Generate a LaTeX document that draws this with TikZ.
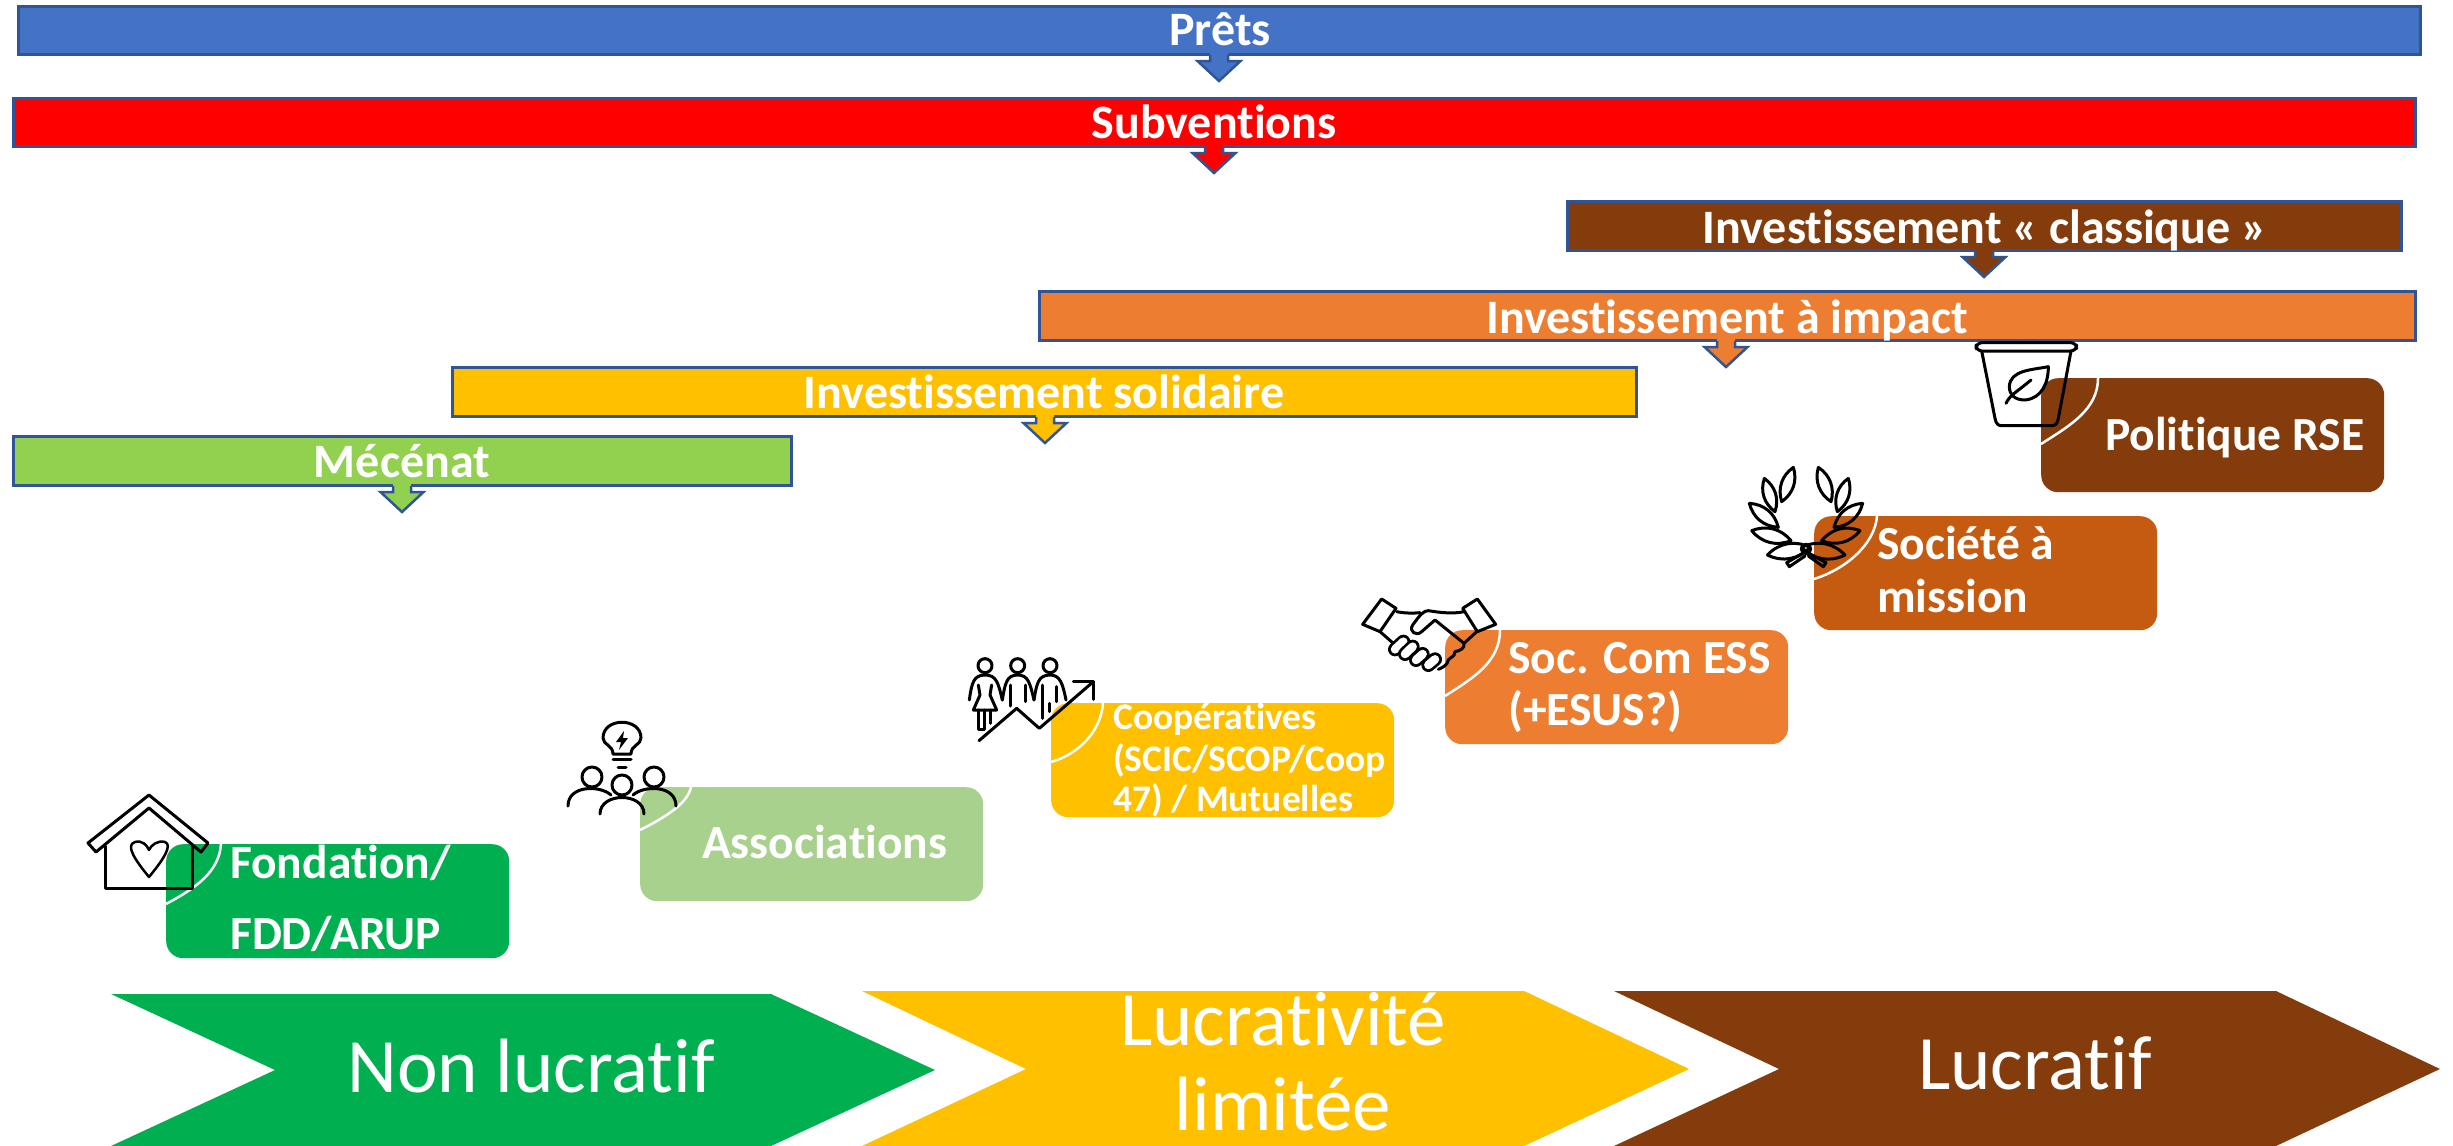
\documentclass[tikz,border=0pt]{standalone}
\usepackage{fontspec}
\setmainfont[Ligatures=NoCommon]{Carlito}
\usetikzlibrary{calc}
\definecolor{cblue}{HTML}{4472C4}
\definecolor{cline}{HTML}{2F5597}
\definecolor{cred}{HTML}{FF0000}
\definecolor{cbrown}{HTML}{843C0C}
\definecolor{corange}{HTML}{ED7D31}
\definecolor{cgold}{HTML}{FFC000}
\definecolor{clime}{HTML}{92D050}
\definecolor{cgreen}{HTML}{00B050}
\definecolor{csage}{HTML}{A9D18E}
\definecolor{crust}{HTML}{C55A11}
\tikzset{
  bar/.style={draw=cline,line width=2.5pt,rectangle,inner sep=0pt,anchor=north west},
  barlabel/.style={text=white,font=\fontsize{48}{50}\selectfont\bfseries,anchor=base,inner sep=0pt},
  stagebox/.style={rectangle,rounded corners=17pt,inner sep=0pt,anchor=north west,minimum width=343pt,minimum height=114pt},
  boxlabel/.style={text=white,font=\fontsize{47.5}{50}\selectfont\bfseries,anchor=base west,inner sep=0pt},
  smalllabel/.style={text=white,font=\fontsize{37.5}{40}\selectfont\bfseries,anchor=base west,inner sep=0pt},
  chevlabel/.style={text=white,font=\fontsize{77}{80}\selectfont,anchor=base,inner sep=0pt},
  cornerarc/.style={draw=white,line width=2.5pt},
  icon/.style={draw=black,line width=3pt,line join=round,line cap=round},
  zoomed/.style={x=1pt,y=-1pt,scale=0.33333}
}
\newcommand{\droparrow}[3]{% centre x, bar bottom y, colour
  \path[fill=#3] (#1-9,#2-3) -- (#1-9,#2+7) -- (#1-21.5,#2+7) -- (#1,#2+27) -- (#1+21.5,#2+7) -- (#1+9,#2+7) -- (#1+9,#2-3) -- cycle;
  \draw[cline,line width=2.5pt,line join=miter] (#1-9,#2+1) -- (#1-9,#2+7) -- (#1-21.5,#2+7) -- (#1,#2+27) -- (#1+21.5,#2+7) -- (#1+9,#2+7) -- (#1+9,#2+1);
}
\newcommand{\leafshape}[4]{\draw[icon] (#1,#2) to[bend left=36] (#3,#4) to[bend left=36] (#1,#2);}
\begin{document}
\begin{tikzpicture}[x=1pt,y=-1pt]
\useasboundingbox (0,0) rectangle (2453,1146);
\path[fill=white] (0,0) rectangle (2453,1146);

% bars
\node[bar,fill=cblue,minimum width=2402pt,minimum height=48pt] (prets) at (17,5) {};
\node[bar,fill=cred,minimum width=2402pt,minimum height=48pt] (subv) at (12,97) {};
\node[bar,fill=cbrown,minimum width=834pt,minimum height=49pt] (classique) at (1566,200) {};
\node[bar,fill=corange,minimum width=1376pt,minimum height=49pt] (impact) at (1038,290) {};
\node[bar,fill=cgold,minimum width=1184pt,minimum height=49pt] (solid) at (451,366) {};
\node[bar,fill=clime,minimum width=778pt,minimum height=49pt] (mecenat) at (12,435) {};
\droparrow{1219}{54}{cblue}
\droparrow{1214}{146}{cred}
\droparrow{1984}{250}{cbrown}
\droparrow{1726}{340}{corange}
\droparrow{1045}{416}{cgold}
\droparrow{402}{485}{clime}
\node[barlabel] (tprets) at (1220,45) {Prêts};
\node[barlabel] (tsubv) at (1214,138) {Subventions};
\node[barlabel] (tclass) at (1985,243) {Investissement « classique »};
\node[barlabel] (timpact) at (1727,333) {Investissement à impact};
\node[barlabel] (tsolid) at (1044,408) {Investissement solidaire};
\node[barlabel] (tmec) at (402,477) {Mécénat};

% stage boxes
\node[stagebox,fill=cgreen] (fond) at (166,844) {};
\node[stagebox,fill=csage] (assoc) at (640,787) {};
\node[stagebox,fill=cgold] (coop) at (1051,703) {};
\node[stagebox,fill=corange] (soc) at (1445,630) {};
\node[stagebox,fill=crust] (mission) at (1814,516) {};
\node[stagebox,fill=cbrown] (rse) at (2041,378) {};

\draw[cornerarc] ($(fond.north west)+(55,0)$) .. controls +(-2,28) and +(30,-16) .. ($(fond.north west)+(0,60)$);
\draw[cornerarc] ($(assoc.north west)+(51,0)$) .. controls +(-3,16) and +(26,-13) .. ($(assoc.north west)+(0,43)$);
\draw[cornerarc] ($(coop.north west)+(52,0)$) .. controls +(-2,28) and +(28,-8) .. ($(coop.north west)+(0,59)$);
\draw[cornerarc] ($(soc.north west)+(55,0)$) .. controls +(0,32) and +(28,-18) .. ($(soc.north west)+(0,66)$);
\draw[cornerarc] ($(mission.north west)+(63,0)$) .. controls +(-2,28) and +(32,-10) .. ($(mission.north west)+(0,63)$);
\draw[cornerarc] ($(rse.north west)+(57,0)$) .. controls +(0,32) and +(28,-18) .. ($(rse.north west)+(0,66)$);

\node[boxlabel] (l1) at (230,878) {Fondation/};
\node[boxlabel] (l2) at (230,949) {FDD/ARUP};
\node[boxlabel] (l3) at (702,858) {Associations};
\node[smalllabel] (l4) at (1113,729) {Coopératives};
\node[smalllabel] (l5) at (1113,771) {(SCIC/SCOP/Coop};
\node[smalllabel] (l6) at (1113,811) {47) / Mutuelles};
\node[boxlabel] (l7) at (1508,673) {Soc. Com ESS};
\node[boxlabel] (l8) at (1508,725) {(+ESUS?)};
\node[boxlabel] (l9) at (1877,559) {Société à};
\node[boxlabel] (l10) at (1877,612) {mission};
\node[boxlabel] (l11) at (2105,450) {Politique RSE};

% chevrons
\path[fill=cgreen] (111,994) -- (771,994) -- (935,1070) -- (771,1146) -- (111,1146) -- (275,1070) -- cycle;
\path[fill=cgold] (862,991) -- (1524,991) -- (1689,1069) -- (1524,1146) -- (862,1146) -- (1026,1069) -- cycle;
\path[fill=cbrown] (1614,991) -- (2276,991) -- (2440,1069) -- (2276,1146) -- (1614,1146) -- (1779,1069) -- cycle;
\node[chevlabel] (c1) at (531,1092) {Non lucratif};
\node[chevlabel] (c2) at (1283,1045) {Lucrativité};
\node[chevlabel] (c3) at (1283,1130) {limitée};
\node[chevlabel] (c4) at (2035,1089) {Lucratif};

% house icon
\draw[icon] (149,795) -- (208,843) -- (201,852) -- (149,808) -- (96,852) -- (88,843) -- cycle;
\draw[icon] (105,846) -- (105,888) -- (192,888) -- (192,846);
\draw[icon,line width=2.5pt] (149,877) .. controls (135,860) and (125,845) .. (135,842) .. controls (142,840) and (147,845) .. (149,850) .. controls (151,845) and (158,840) .. (165,842) .. controls (173,845) and (163,860) .. (149,877) -- cycle;

% bulb and people icon
\draw[icon] (613,754) .. controls (613,745) and (603,745) .. (603,738) .. controls (603,717) and (641,717) .. (641,738) .. controls (641,745) and (631,745) .. (631,754) -- cycle;
\draw[icon] (613,759) -- (631,759);
\draw[icon] (618,767) -- (626,767);
\path[fill=black] (624,731) -- (616,742) -- (621,742) -- (619,750) -- (628,738) -- (623,738) -- cycle;
\draw[icon] (592,777) ellipse (10 and 10);
\draw[icon] (654,777) ellipse (10 and 10);
\draw[icon] (622,785) ellipse (10 and 10);
\draw[icon] (568,806) .. controls (568,785) and (600,785) .. (611,795);
\draw[icon] (676,806) .. controls (676,785) and (644,785) .. (633,795);
\draw[icon] (600,814) .. controls (600,792) and (644,792) .. (644,814);

% people and rising arrow icon
\begin{scope}[shift={(950,640)},zoomed]
\draw[icon] (105,77) circle (21);
\draw[icon] (203,77) circle (21);
\draw[icon] (300,77) circle (21);
\draw[icon] (58,180) .. controls (65,130) and (70,105) .. (105,105) .. controls (140,105) and (145,130) .. (157,180);
\draw[icon] (157,180) .. controls (165,130) and (170,105) .. (203,105) .. controls (235,105) and (240,130) .. (252,180);
\draw[icon] (252,180) .. controls (260,130) and (265,105) .. (300,105) .. controls (330,105) and (338,130) .. (348,180);
\draw[icon] (85,135) -- (90,165) -- (70,210) -- (140,210) -- (120,165) -- (125,135);
\draw[icon] (85,210) -- (85,268) -- (103,268) -- (103,210);
\draw[icon] (122,210) -- (122,250);
\draw[icon] (182,135) -- (182,198);
\draw[icon] (225,135) -- (225,185);
\draw[icon] (278,135) -- (278,235);
\draw[icon] (320,140) -- (320,185);
\draw[icon] (298,190) -- (298,215);
\draw[icon] (87,302) -- (200,205) -- (268,265) -- (430,125);
\draw[icon] (370,125) -- (430,125) -- (430,178);
\end{scope}

% handshake icon
\begin{scope}[shift={(1340,580)},zoomed]
\draw[icon] (125,57) -- (168,85) -- (120,155) -- (68,133) -- cycle;
\draw[icon] (412,57) -- (467,133) -- (412,155) -- (368,85) -- cycle;
\draw[icon] (170,95) .. controls (195,100) and (220,100) .. (240,98);
\draw[icon] (372,95) .. controls (340,102) and (300,98) .. (265,92) .. controls (250,92) and (240,105) .. (218,135) .. controls (205,155) and (230,170) .. (245,155) -- (285,120) -- (372,190) -- (410,155);
\draw[icon] (120,155) -- (160,190);
\foreach \ax/\ay/\bx/\by in {165/208/190/185,195/222/218/200,228/240/248/222,265/255/285/238}{
  \draw[line cap=round,draw=black,line width=14pt] (\ax,\ay) -- (\bx,\by);
  \draw[line cap=round,draw=white,line width=8.5pt] (\ax,\ay) -- (\bx,\by);
}
\draw[icon] (372,190) .. controls (375,205) and (360,212) .. (345,215) .. controls (345,230) and (330,232) .. (325,240) .. controls (322,255) and (310,262) .. (295,268);
\end{scope}

% laurel icon
\begin{scope}[shift={(1730,450)},zoomed]
\leafshape{190}{52}{155}{155}
\leafshape{103}{85}{135}{185}
\leafshape{58}{160}{145}{232}
\leafshape{65}{242}{183}{272}
\leafshape{112}{315}{240}{292}
\leafshape{265}{52}{303}{155}
\leafshape{355}{85}{322}{185}
\leafshape{398}{160}{312}{232}
\leafshape{390}{242}{275}{272}
\leafshape{345}{315}{215}{292}
\draw[icon] (215,312) -- (170,338) -- (178,350) -- (225,318);
\draw[icon] (240,312) -- (288,338) -- (280,350) -- (235,318);
\draw[icon] (228,297) circle (14);
\end{scope}

% cup icon
\begin{scope}[shift={(1960,330)},zoomed]
\draw[icon] (175,36) -- (175,38);
\draw[icon] (220,36) -- (220,38);
\draw[icon,rounded corners=6pt] (48,38) rectangle (350,63);
\draw[icon] (65,63) -- (105,265) .. controls (108,282) and (115,287) .. (125,287) -- (275,287) .. controls (285,287) and (292,282) .. (295,265) -- (333,63);
\draw[icon] (265,110) .. controls (215,120) and (150,120) .. (148,170) .. controls (148,195) and (165,210) .. (195,210) .. controls (245,205) and (265,160) .. (265,110) -- cycle;
\draw[icon] (138,220) .. controls (150,195) and (165,190) .. (213,150);
\end{scope}
\end{tikzpicture}
\end{document}
